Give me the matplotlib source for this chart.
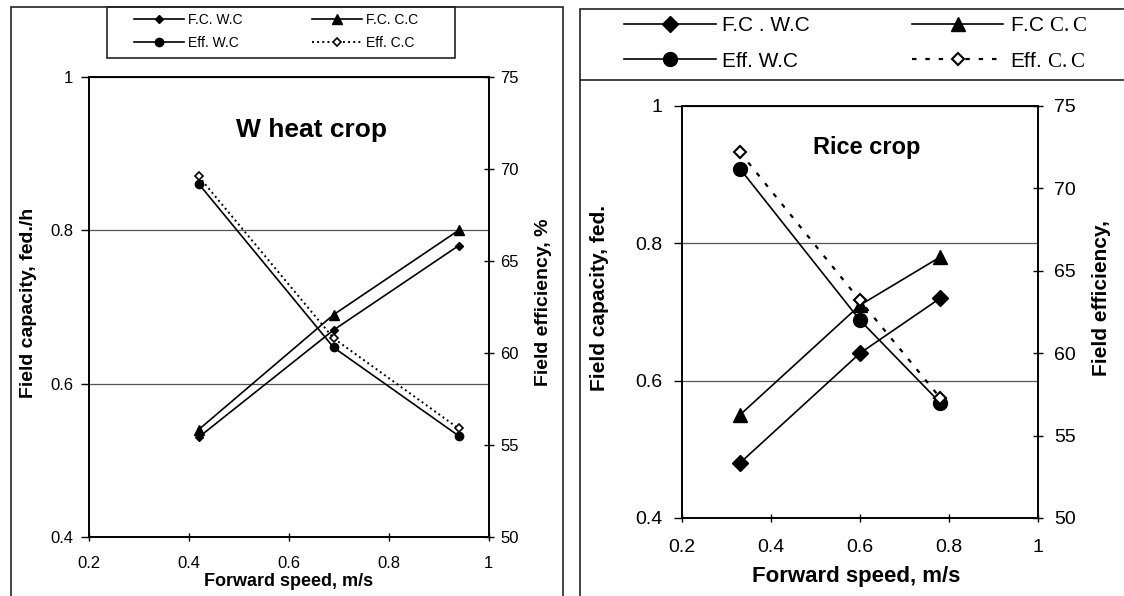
import matplotlib
matplotlib.use('Agg')
import matplotlib.pyplot as plt
from matplotlib.patches import Rectangle
from matplotlib.lines import Line2D
from matplotlib import font_manager

plt.rcParams['mathtext.fontset'] = 'custom'
plt.rcParams['mathtext.rm'] = 'Liberation Serif'

def has_font(name):
    try:
        font_manager.findfont(name, fallback_to_default=False)
        return True
    except Exception:
        return False

NARROW = 'Liberation Sans Narrow' if has_font('Liberation Sans Narrow') else 'Liberation Sans'
SANS = 'Liberation Sans'

# ---------------- data ----------------
wheat_speed = [0.42, 0.69, 0.94]
wheat_fc_wc = [0.53, 0.67, 0.78]
wheat_fc_cc = [0.54, 0.69, 0.80]
wheat_eff_wc = [69.2, 60.3, 55.5]
wheat_eff_cc = [69.6, 60.8, 55.9]

rice_speed = [0.33, 0.60, 0.78]
rice_fc_wc = [0.48, 0.64, 0.72]
rice_fc_cc = [0.55, 0.71, 0.78]
rice_eff_wc = [71.2, 62.0, 57.0]
rice_eff_cc = [72.2, 63.2, 57.3]

x_ticks = [0.2, 0.4, 0.6, 0.8, 1.0]
x_ticklabels = ['0.2', '0.4', '0.6', '0.8', '1']
fc_ticks = [0.4, 0.6, 0.8, 1.0]
fc_ticklabels = ['0.4', '0.6', '0.8', '1']
eff_ticks = [50, 55, 60, 65, 70, 75]

W, H = 1124, 596
fig = plt.figure(figsize=(W / 100, H / 100), dpi=100)


def axes_rect(l, r, t, b):
    return [l / W, 1 - b / H, (r - l) / W, (b - t) / H]


def setup(ax, axr, fam, tsize, xpad, ypad):
    ax.set_xlim(0.2, 1.0)
    ax.set_ylim(0.4, 1.0)
    axr.set_ylim(50, 75)
    ax.set_xticks(x_ticks)
    ax.set_xticklabels(x_ticklabels, family=fam, fontsize=tsize)
    ax.set_yticks(fc_ticks)
    ax.set_yticklabels(fc_ticklabels, family=fam, fontsize=tsize)
    axr.set_yticks(eff_ticks)
    axr.set_yticklabels([str(v) for v in eff_ticks], family=fam, fontsize=tsize)
    ax.tick_params(axis='x', direction='inout', length=6, width=1, pad=xpad)
    ax.tick_params(axis='y', direction='out', length=6, width=1, pad=ypad)
    axr.tick_params(axis='y', direction='inout', length=7, width=1, pad=ypad)
    for a in (ax, axr):
        for s in a.spines.values():
            s.set_linewidth(1.2)
            s.set_color('black')
    ax.grid(axis='y', color='#555555', linewidth=0.9)
    ax.set_axisbelow(True)


# ---------------- wheat panel ----------------
ax1 = fig.add_axes(axes_rect(88.6, 488.6, 77, 537))
ax1r = ax1.twinx()
setup(ax1, ax1r, NARROW, 12, 11, 5)
lw = 1.2
h1, = ax1.plot(wheat_speed, wheat_fc_wc, linestyle='-', color='black', lw=lw, marker='D', ms=4.5, label='F.C. W.C')
h2, = ax1.plot(wheat_speed, wheat_fc_cc, linestyle='-', color='black', lw=lw, marker='^', ms=6.5, label='F.C. C.C')
h3, = ax1r.plot(wheat_speed, wheat_eff_wc, linestyle='-', color='black', lw=lw, marker='o', ms=6, label='Eff. W.C')
h4, = ax1r.plot(wheat_speed, wheat_eff_cc, linestyle=':', color='black', lw=1.4, marker='D', ms=4.5,
                mfc='white', mec='black', mew=1.2, label='Eff. C.C')
ax1.text(0.558, 0.885, 'W heat crop', transform=ax1.transAxes, ha='center', va='center',
         family=NARROW, fontsize=19, fontweight='bold')
ax1.set_xlabel('Forward speed, m/s', family=NARROW, fontsize=13, fontweight='bold')
ax1.xaxis.set_label_coords(0.5, -0.078)
ax1.set_ylabel('Field capacity, fed./h', family=NARROW, fontsize=14, fontweight='bold')
ax1.yaxis.set_label_coords(-0.129, 0.51)
ax1r.set_ylabel('Field efficiency, %', family=NARROW, fontsize=14, fontweight='bold')
ax1r.yaxis.set_label_coords(1.116, 0.51)

# legend box (frame) and frameless legend inside it
fig.add_artist(Rectangle((107 / W, 1 - 58 / H), (455 - 107) / W, (58 - 7) / H, transform=fig.transFigure,
                         fill=False, ec='#222222', lw=1.2))
fig.legend([h1, h3, h2, h4], ['F.C. W.C', 'Eff. W.C', 'F.C. C.C', 'Eff. C.C'],
           loc='upper left', bbox_to_anchor=(134 / W, 1 - 13 / H),
           ncol=2, borderaxespad=0, borderpad=0, frameon=False,
           handlelength=3.6, handletextpad=0.3, columnspacing=5.0,
           labelspacing=0.67, prop={'family': NARROW, 'size': 10})

# ---------------- rice panel ----------------
ax2 = fig.add_axes(axes_rect(682, 1038, 106, 518))
ax2r = ax2.twinx()
setup(ax2, ax2r, SANS, 14, 12, 8)
g1, = ax2.plot(rice_speed, rice_fc_wc, linestyle='-', color='black', lw=lw, marker='D', ms=8, label='F.C . W.C')
g2, = ax2.plot(rice_speed, rice_fc_cc, linestyle='-', color='black', lw=lw, marker='^', ms=10, label='F.C C.C')
g3, = ax2r.plot(rice_speed, rice_eff_wc, linestyle='-', color='black', lw=lw, marker='o', ms=10, label='Eff. W.C')
g4, = ax2r.plot(rice_speed, rice_eff_cc, linestyle=(0, (2, 4)), color='black', lw=1.6, marker='D', ms=6.5,
                mfc='white', mec='black', mew=1.5, label='Eff. C.C')
ax2.text(0.52, 0.9, 'Rice crop', transform=ax2.transAxes, ha='center', va='center',
         family=SANS, fontsize=17, fontweight='bold')
ax2.set_xlabel('Forward speed, m/s', family=SANS, fontsize=16, fontweight='bold')
ax2.xaxis.set_label_coords(0.49, -0.117)
ax2.set_ylabel('Field capacity, fed.', family=SANS, fontsize=15, fontweight='bold')
ax2.yaxis.set_label_coords(-0.205, 0.534)
ax2r.set_ylabel('Field efficiency,', family=SANS, fontsize=15, fontweight='bold')
ax2r.yaxis.set_label_coords(1.152, 0.534)

fig.legend([g1, g3, g2, g4], ['F.C . W.C', 'Eff. W.C', r'F.C $\mathrm{C.C}$', r'Eff. $\mathrm{C.C}$'],
           loc='upper left', bbox_to_anchor=(624 / W, 1 - 16 / H),
           ncol=2, borderaxespad=0, borderpad=0, frameon=False,
           handlelength=4.4, handletextpad=0.3, columnspacing=4.9,
           labelspacing=0.8, prop={'family': SANS, 'size': 15})

# ---------------- frames ----------------
fig.add_artist(Rectangle((11 / W, -0.02), (563 - 11) / W, 1.02 - 7 / H, transform=fig.transFigure,
                         fill=False, ec='#222222', lw=1.2))
fig.add_artist(Rectangle((580 / W, -0.02), 0.6, 1.02 - 9 / H, transform=fig.transFigure,
                         fill=False, ec='#222222', lw=1.2))
fig.add_artist(Line2D([580 / W, 1.0], [1 - 80 / H, 1 - 80 / H], transform=fig.transFigure,
                      color='#222222', lw=1.2))

fig.savefig('out.png', dpi=100)
